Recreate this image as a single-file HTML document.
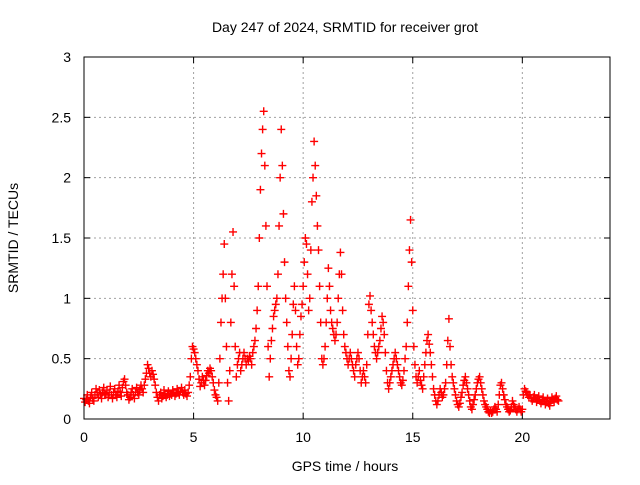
<!DOCTYPE html>
<html><head><meta charset="utf-8"><style>
body{margin:0;background:#fff;}
svg text{font-family:"Liberation Sans",sans-serif;font-size:14px;fill:#000;}
</style></head><body>
<svg id="chart" width="640" height="480" viewBox="0 0 640 480">
<text x="345" y="32" text-anchor="middle">Day 247 of 2024, SRMTID for receiver grot</text>
<text x="345" y="471" text-anchor="middle">GPS time / hours</text>
<text transform="translate(18,238) rotate(-90)" text-anchor="middle">SRMTID / TECUs</text>
<g id="grid"></g>
<g id="ticks"></g>
<g id="marks"></g>
<rect x="84" y="57" width="526" height="362" fill="none" stroke="#000" stroke-width="1"/>
</svg>
<script>
const xTicks=[0,5,10,15,20];
const yTicks=[0,0.5,1,1.5,2,2.5,3];
const yTickLabels=["0","0.5","1","1.5","2","2.5","3"];
const startHour=0;
const stepHour=0.05;
const values=[
0.17,0.14,0.16,0.2,0.15,0.13,0.18,0.22,0.17,0.15,0.2,0.25,0.22,0.18,0.24,0.2,0.17,0.22,0.26,0.21,
0.2,0.24,0.18,0.22,0.27,0.2,0.17,0.22,0.25,0.2,0.18,0.23,0.28,0.22,0.19,0.26,0.31,0.33,0.28,0.22,
0.2,0.16,0.18,0.22,0.25,0.2,0.17,0.22,0.26,0.22,0.2,0.24,0.28,0.25,0.22,0.28,0.33,0.38,0.45,0.42,
0.38,0.35,0.4,0.37,0.33,0.28,0.22,0.18,0.15,0.2,0.22,0.17,0.19,0.24,0.21,0.18,0.2,0.23,0.19,0.21,
0.2,0.24,0.22,0.19,0.21,0.25,0.22,0.2,0.23,0.26,0.22,0.2,0.24,0.21,0.19,0.22,0.28,0.35,0.5,0.6,
0.58,0.55,0.5,0.45,0.4,0.33,0.27,0.3,0.35,0.32,0.28,0.32,0.36,0.4,0.38,0.42,0.4,0.35,0.3,0.24,
0.2,0.18,0.15,0.3,0.5,0.8,1.0,1.2,1.45,1.0,0.6,0.3,0.15,0.4,0.8,1.2,1.55,1.1,0.6,0.35,
0.45,0.5,0.55,0.4,0.45,0.5,0.55,0.5,0.45,0.5,0.48,0.52,0.5,0.45,0.55,0.6,0.65,0.75,0.9,1.1,
1.5,1.9,2.2,2.4,2.55,2.1,1.6,1.1,0.6,0.35,0.5,0.65,0.75,0.85,0.9,0.95,1.0,1.2,1.6,2.0,
2.4,2.1,1.7,1.3,1.0,0.8,0.6,0.4,0.35,0.5,0.7,0.95,1.1,0.9,0.6,0.45,0.5,0.7,0.85,0.95,
1.1,1.3,1.5,1.45,1.2,0.9,1.0,1.4,1.8,2.0,2.3,2.1,1.85,1.6,1.4,1.1,0.8,0.5,0.45,0.5,
0.6,0.8,1.0,1.25,1.1,0.9,0.8,0.75,0.7,0.65,0.7,0.8,1.0,1.2,1.38,1.2,0.9,0.7,0.6,0.55,
0.5,0.45,0.5,0.55,0.5,0.45,0.4,0.35,0.45,0.5,0.55,0.5,0.4,0.3,0.35,0.4,0.35,0.3,0.45,0.7,
0.95,1.02,0.9,0.8,0.7,0.6,0.55,0.5,0.55,0.6,0.65,0.75,0.85,0.8,0.7,0.55,0.4,0.3,0.25,0.3,
0.35,0.4,0.45,0.5,0.55,0.5,0.45,0.4,0.35,0.3,0.28,0.32,0.4,0.5,0.6,0.8,1.1,1.4,1.65,1.3,
0.9,0.6,0.45,0.35,0.3,0.35,0.4,0.32,0.28,0.25,0.35,0.45,0.55,0.65,0.7,0.62,0.55,0.45,0.35,0.25,
0.2,0.15,0.12,0.15,0.2,0.25,0.22,0.18,0.2,0.25,0.3,0.45,0.65,0.83,0.6,0.45,0.35,0.3,0.25,0.2,
0.15,0.12,0.1,0.13,0.18,0.22,0.28,0.32,0.35,0.3,0.25,0.2,0.15,0.1,0.08,0.12,0.16,0.2,0.25,0.3,
0.33,0.35,0.3,0.25,0.2,0.15,0.12,0.1,0.08,0.06,0.05,0.07,0.05,0.06,0.08,0.1,0.08,0.06,0.12,0.2,
0.28,0.3,0.25,0.2,0.16,0.12,0.1,0.08,0.06,0.07,0.1,0.15,0.12,0.1,0.08,0.06,0.08,0.1,0.08,0.06,
0.08,0.2,0.25,0.23,0.22,0.2,0.18,0.2,0.17,0.15,0.18,0.2,0.17,0.14,0.16,0.19,0.15,0.13,0.16,0.18,
0.15,0.12,0.14,0.17,0.13,0.11,0.15,0.18,0.16,0.14,0.17,0.19,0.16,0.15
];
const X0=84,X1=610,Y0=419,Y1=57,XMAX=24,YMAX=3;
function xs(h){return X0+(X1-X0)*h/XMAX;}
function ys(v){return Y0-(Y0-Y1)*v/YMAX;}
const NS="http://www.w3.org/2000/svg";
function mk(tag,attrs,parent){const e=document.createElementNS(NS,tag);for(const k in attrs)e.setAttribute(k,attrs[k]);parent.appendChild(e);return e;}
const grid=document.getElementById('grid'),ticks=document.getElementById('ticks'),marks=document.getElementById('marks');
xTicks.forEach(t=>{
  const x=xs(t);
  if(t>0){const g=mk('line',{x1:x,x2:x,y1:Y1,y2:Y0,stroke:'#a0a0a0','stroke-dasharray':'2,3'},grid);
  
  }
  mk('line',{x1:x,x2:x,y1:Y0,y2:Y0-6,stroke:'#000'},ticks);
  mk('line',{x1:x,x2:x,y1:Y1,y2:Y1+6,stroke:'#000'},ticks);
  const tx=mk('text',{x:x,y:Y0+23,'text-anchor':'middle'},ticks);
  tx.textContent=String(t);
  
  
});
yTicks.forEach((t,i)=>{
  const y=ys(t);
  if(t>0&&t<YMAX){const g=mk('line',{x1:X0,x2:X1,y1:y,y2:y,stroke:'#a0a0a0','stroke-dasharray':'2,3'},grid);
  
  }
  mk('line',{x1:X0,x2:X0+6,y1:y,y2:y,stroke:'#000'},ticks);
  mk('line',{x1:X1,x2:X1-6,y1:y,y2:y,stroke:'#000'},ticks);
  const tx=mk('text',{x:X0-13,y:y+5,'text-anchor':'end'},ticks);
  tx.textContent=yTickLabels[i];
  
  
});
values.forEach((v,i)=>{
  const x=xs(startHour+i*stepHour),y=ys(v);
  const p=mk('path',{d:`M${x-4},${y}h8M${x},${y-4}v8`,stroke:'#ff0000','stroke-width':1.4,fill:'none'},marks);
  
  
});
</script>
</body></html>
